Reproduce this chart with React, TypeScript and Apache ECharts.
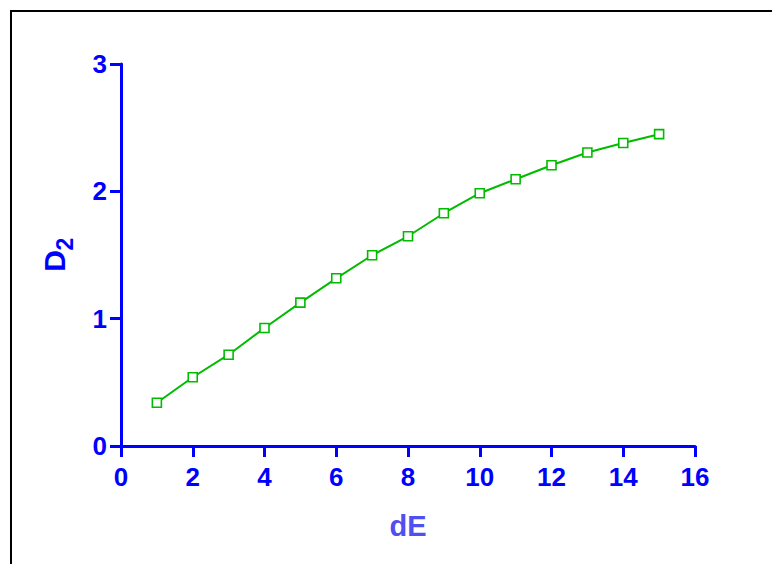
import React, { useEffect, useRef } from "react";
import * as echarts from "echarts";

// Embedding dimension vs. correlation dimension estimate
const dE: number[] = [1, 2, 3, 4, 5, 6, 7, 8, 9, 10, 11, 12, 13, 14, 15];
const d2: number[] = [0.34, 0.54, 0.717, 0.927, 1.126, 1.317, 1.498, 1.647, 1.828, 1.985, 2.095, 2.205, 2.305, 2.379, 2.449];
const xTicks = { min: 0, max: 16, interval: 2 };
const yTicks = { min: 0, max: 3, interval: 1 };

const BLUE = "#0000FF";
const GREEN = "#00BB00";
const FONT = "'Liberation Sans', Arial, sans-serif";

export default function App() {
  const ref = useRef<HTMLDivElement>(null);

  useEffect(() => {
    if (!ref.current) return;
    const chart = echarts.init(ref.current, undefined, { renderer: "svg" });
    chart.setOption({
      animation: false,
      backgroundColor: "#ffffff",
      graphic: [
        {
          type: "rect",
          shape: { x: 11, y: 11, width: 800, height: 600 },
          style: { fill: "none", stroke: "#000000", lineWidth: 2 },
          silent: true,
        },
        // rotated y-axis title: D with subscript 2
        {
          type: "text",
          x: 54,
          y: 261,
          rotation: Math.PI / 2,
          style: {
            text: "D",
            fill: BLUE,
            font: `bold 30px ${FONT}`,
            align: "center",
            verticalAlign: "middle",
          },
          silent: true,
        },
        {
          type: "text",
          x: 65,
          y: 244,
          rotation: Math.PI / 2,
          style: {
            text: "2",
            fill: BLUE,
            font: `bold 23px ${FONT}`,
            align: "center",
            verticalAlign: "middle",
          },
          silent: true,
        },
      ],
      grid: { left: 121, right: 77, top: 64, bottom: 118 },
      xAxis: {
        type: "value",
        min: xTicks.min,
        max: xTicks.max,
        interval: xTicks.interval,
        name: "dE",
        nameLocation: "middle",
        nameGap: 65,
        nameTextStyle: { color: "#5050F0", fontSize: 29, fontWeight: "bold", fontFamily: FONT },
        axisLine: { lineStyle: { color: BLUE, width: 3 } },
        axisTick: { show: true, length: 11, lineStyle: { color: BLUE, width: 3 } },
        axisLabel: { color: BLUE, fontSize: 26, fontWeight: "bold", fontFamily: FONT, margin: 18 },
        splitLine: { show: false },
      },
      yAxis: {
        type: "value",
        min: yTicks.min,
        max: yTicks.max,
        interval: yTicks.interval,
        axisLine: { show: true, lineStyle: { color: BLUE, width: 3 } },
        axisTick: { show: true, length: 11, lineStyle: { color: BLUE, width: 3 } },
        axisLabel: { color: BLUE, fontSize: 26, fontWeight: "bold", fontFamily: FONT, margin: 14 },
        splitLine: { show: false },
      },
      series: [
        {
          type: "line",
          data: dE.map((x, i) => [x, d2[i]]),
          symbol: "rect",
          symbolSize: 9,
          lineStyle: { color: GREEN, width: 2 },
          itemStyle: { color: "#ffffff", borderColor: GREEN, borderWidth: 1.6 },
        },
      ],
    });
    return () => chart.dispose();
  }, []);

  return (
    <div
      ref={ref}
      style={{ position: "absolute", left: 0, top: 0, width: 772, height: 564 }}
    />
  );
}
